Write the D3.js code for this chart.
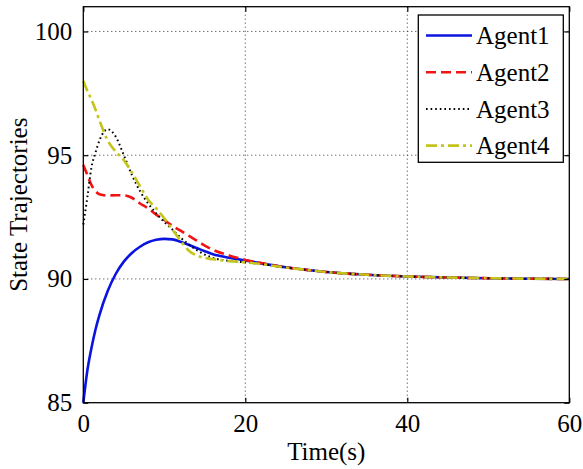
<!DOCTYPE html>
<html>
<head>
<meta charset="utf-8">
<script src="https://cdn.jsdelivr.net/npm/d3@7"></script>
<style>
  body { margin: 0; background: #fff; }
  text { font-family: "Liberation Serif", "Times New Roman", serif; fill: #000; }
</style>
</head>
<body>
<div id="vis"></div>
<script>
var time = [0, 0.5, 1, 1.5, 2, 3, 4, 5, 6, 7, 8, 9, 10, 11, 12, 13, 14, 15, 16, 18, 20, 22, 25, 28, 30, 35, 40, 45, 50, 55, 60];

var agent1 = [85, 86.3, 87.2, 87.95, 88.55, 89.5, 90.2, 90.7, 91.05, 91.3, 91.48, 91.58, 91.62, 91.6, 91.5, 91.38, 91.25, 91.12, 91.0, 90.86, 90.75, 90.63, 90.47, 90.35, 90.28, 90.17, 90.1, 90.06, 90.03, 90.01, 90.0];
var agent2 = [94.6, 94.2, 93.8, 93.55, 93.42, 93.37, 93.38, 93.38, 93.28, 93.05, 92.85, 92.6, 92.38, 92.15, 91.95, 91.75, 91.55, 91.35, 91.18, 90.95, 90.77, 90.64, 90.47, 90.35, 90.28, 90.17, 90.1, 90.06, 90.03, 90.01, 90.0];
var agent3 = [92.2, 93.3, 94.5, 95.1, 95.6, 96.05, 95.75, 95.0, 94.2, 93.55, 93.05, 92.65, 92.3, 92.0, 91.67, 91.4, 91.17, 90.98, 90.85, 90.73, 90.67, 90.6, 90.46, 90.35, 90.28, 90.17, 90.1, 90.06, 90.03, 90.01, 90.0];
var agent4 = [98.0, 97.6, 97.25, 96.85, 96.4, 95.6, 95.15, 94.8, 94.3, 93.75, 93.2, 92.85, 92.45, 92.0, 91.55, 91.15, 90.95, 90.85, 90.8, 90.72, 90.67, 90.6, 90.46, 90.35, 90.28, 90.17, 90.1, 90.06, 90.03, 90.01, 90.0];

var names = ["Agent1", "Agent2", "Agent3", "Agent4"];
var colors = ["#0a14e0", "#f01414", "#000000", "#c4c41a"];
var dashes = ["none", "10,5", "1.6,3", "11,4,3,4"];
var xTicks = [0, 20, 40, 60];
var yTicks = [85, 90, 95, 100];

var W = 583, H = 469;
var margin = {top: 6.7, right: 13.7, bottom: 66.3, left: 83.3},
    width = W - margin.left - margin.right,
    height = H - margin.top - margin.bottom;

var svg = d3.select("#vis").append("svg")
    .attr("width", W)
    .attr("height", H);

var g = svg.append("g")
    .attr("transform", "translate(" + margin.left + "," + margin.top + ")");

var x = d3.scaleLinear().domain([0, 60]).range([0, width]);
var y = d3.scaleLinear().domain([85, 101]).range([height, 0]);

// grid
g.append("g").selectAll("line")
    .data(xTicks.filter(function(d) { return d > 0 && d < 60; }))
  .enter().append("line")
    .attr("x1", function(d) { return x(d); })
    .attr("x2", function(d) { return x(d); })
    .attr("y1", 0).attr("y2", height)
    .style("stroke", "#333").style("stroke-width", 1).style("stroke-dasharray", "1,3");

g.append("g").selectAll("line")
    .data(yTicks.filter(function(d) { return d > 85; }))
  .enter().append("line")
    .attr("y1", function(d) { return y(d); })
    .attr("y2", function(d) { return y(d); })
    .attr("x1", 0).attr("x2", width)
    .style("stroke", "#333").style("stroke-width", 1).style("stroke-dasharray", "1,3");

// curves
var series = [agent1, agent2, agent3, agent4];
var line = d3.line()
    .x(function(d) { return x(d[0]); })
    .y(function(d) { return y(d[1]); })
    .curve(d3.curveMonotoneX);

g.append("g").selectAll("path")
    .data(series)
  .enter().append("path")
    .attr("d", function(s) { return line(time.map(function(t, i) { return [t, s[i]]; })); })
    .style("fill", "none")
    .style("stroke", function(d, i) { return colors[i]; })
    .style("stroke-width", function(d, i) { return i == 2 ? 2 : 2.6; })
    .style("stroke-dasharray", function(d, i) { return dashes[i]; });

// axes with inward ticks
var xAxis = g.append("g")
    .attr("transform", "translate(0," + height + ")")
    .call(d3.axisBottom(x).tickValues(xTicks).tickSize(-5).tickPadding(12));
var xTop = g.append("g")
    .call(d3.axisTop(x).tickValues(xTicks).tickSize(-5).tickFormat(""));
var yAxis = g.append("g")
    .call(d3.axisLeft(y).tickValues(yTicks).tickSize(-5).tickPadding(11));
var yRight = g.append("g")
    .attr("transform", "translate(" + width + ",0)")
    .call(d3.axisRight(y).tickValues(yTicks).tickSize(-5).tickFormat(""));

[xAxis, xTop, yAxis, yRight].forEach(function(a) {
  a.select(".domain").remove();
  a.selectAll("line").style("stroke", "#000").style("stroke-width", 1.2);
  a.selectAll("text").style("font-size", "25px").style("font-family", "'Liberation Serif', serif");
});
xAxis.selectAll("text").attr("dy", "0.71em");

g.append("rect")
    .attr("width", width).attr("height", height)
    .style("fill", "none").style("stroke", "#000").style("stroke-width", 1.3);

// axis titles
svg.append("text")
    .attr("x", margin.left + width / 2)
    .attr("y", 460)
    .attr("text-anchor", "middle")
    .style("font-size", "25px")
    .text("Time(s)");

svg.append("text")
    .attr("transform", "translate(27," + (margin.top + height / 2) + ") rotate(-90)")
    .attr("text-anchor", "middle")
    .style("font-size", "25px")
    .text("State Trajectories");

// legend
var legend = svg.append("g");
legend.append("rect")
    .attr("x", 418.3).attr("y", 15)
    .attr("width", 145).attr("height", 147.3)
    .style("fill", "#fff").style("stroke", "#000").style("stroke-width", 1.3);

var item = legend.selectAll("g.item")
    .data(names)
  .enter().append("g")
    .attr("class", "item")
    .attr("transform", function(d, i) { return "translate(0," + (35.5 + i * 36.7) + ")"; });

item.append("line")
    .attr("x1", 426).attr("x2", 472)
    .style("stroke", function(d, i) { return colors[i]; })
    .style("stroke-width", function(d, i) { return i == 2 ? 2 : 2.6; })
    .style("stroke-dasharray", function(d, i) { return dashes[i]; });

item.append("text")
    .attr("x", 476)
    .attr("dy", "0.35em")
    .style("font-size", "25px")
    .text(function(d) { return d; });
</script>
</body>
</html>
